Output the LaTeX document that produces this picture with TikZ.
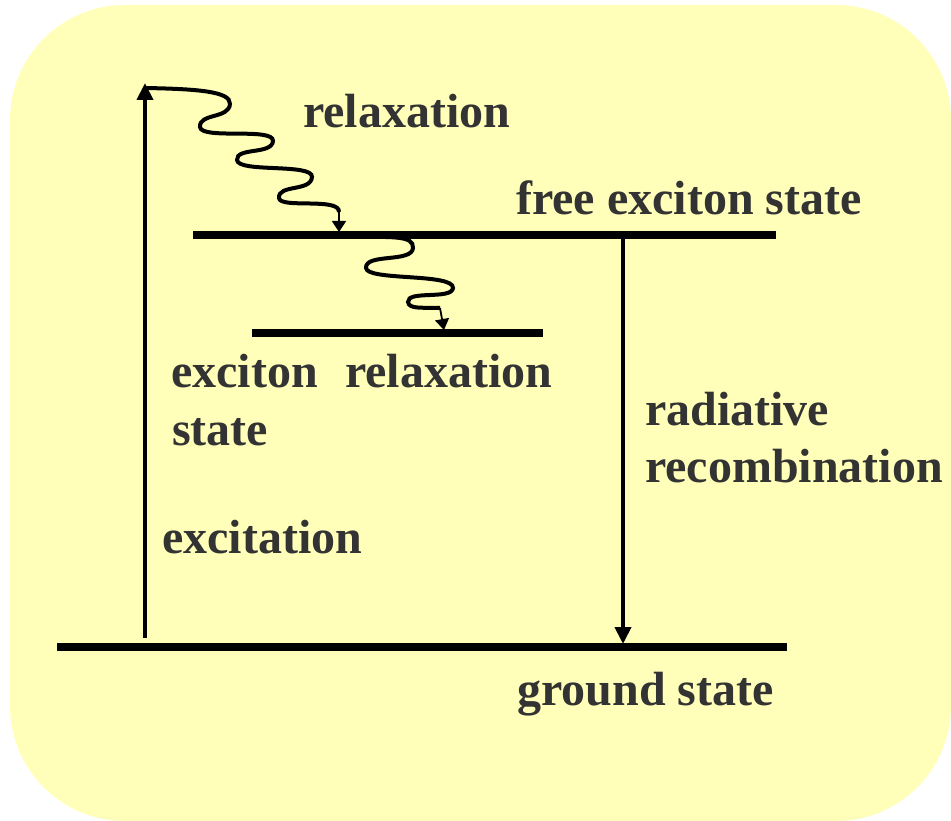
\documentclass[tikz,border=0pt]{standalone}
\usepackage{fontspec}
\setmainfont{Liberation Serif}
\usetikzlibrary{arrows.meta}
\definecolor{bgyellow}{RGB}{255,255,185}
\definecolor{labgray}{RGB}{51,51,51}

\begin{document}
\begin{tikzpicture}[
    x=1pt, y=-1pt,
    level/.style={line width=7.5pt},
    trans/.style={line width=4pt, -{Triangle[length=17pt,width=16pt]}},
    wave/.style={line width=4pt},
    stem/.style={line width=1.8pt, -{Triangle[length=11pt,width=14pt]}},
    lab/.style={anchor=base west, inner sep=0pt, text=labgray, font=\fontsize{48}{58}\selectfont\bfseries}
]
\useasboundingbox (0,0) rectangle (951,821);
\fill[bgyellow, rounded corners=115pt] (10,5) rectangle (951,821);

% energy levels
\coordinate (g0) at (57,647);  \coordinate (g1) at (787,647);
\coordinate (f0) at (193,235); \coordinate (f1) at (776,235);
\coordinate (s0) at (252,333); \coordinate (s1) at (543,333);
\draw[level] (g0) -- (g1);
\draw[level] (f0) -- (f1);
\draw[level] (s0) -- (s1);

% excitation and recombination
\coordinate (up0) at (145,638); \coordinate (up1) at (145,83);
\coordinate (dn0) at (623,238); \coordinate (dn1) at (623,644);
\draw[trans] (up0) -- (up1);
\draw[trans] (dn0) -- (dn1);

% relaxation (wavy)
\coordinate (w1s) at (146,88);  \coordinate (w1e) at (339,212); \coordinate (w1t) at (339,232);
\draw[wave] (w1s) .. controls (195,89) and (231,91) .. (230,104)
    .. controls (229,119) and (199,113) .. (200,127)
    .. controls (201,140) and (274,127) .. (273,141)
    .. controls (272,155) and (236,147) .. (237,160)
    .. controls (238,173) and (313,163) .. (312,177)
    .. controls (311,192) and (278,184) .. (279,198)
    .. controls (280,209) and (340,197) .. (w1e);
\draw[stem] (w1e) -- (w1t);
\coordinate (w2s) at (345,237); \coordinate (w2e) at (440,308); \coordinate (w2t) at (444,330);
\draw[wave] (w2s) .. controls (392,237) and (414,235) .. (413,248)
    .. controls (412,263) and (365,253) .. (366,268)
    .. controls (367,281) and (454,273) .. (453,288)
    .. controls (452,300) and (407,290) .. (408,302)
    .. controls (409,310) and (425,307) .. (w2e);
\draw[stem] (w2e) -- (w2t);

% labels
\node[lab] (relaxtop) at (303,128) {relaxation};
\node[lab] (freelab) at (516,215) {free exciton state};
\node[lab] (exclab) at (171,387) {exciton};
\node[lab] (relaxlow) at (345,387) {relaxation};
\node[lab] (statelab) at (172,445) {state};
\node[lab] (radlab) at (645,425) {radiative};
\node[lab] (recomblab) at (645,482) {recombination};
\node[lab] (exclab2) at (162,553) {excitation};
\node[lab] (groundlab) at (517,705) {ground state};
\end{tikzpicture}
\end{document}
